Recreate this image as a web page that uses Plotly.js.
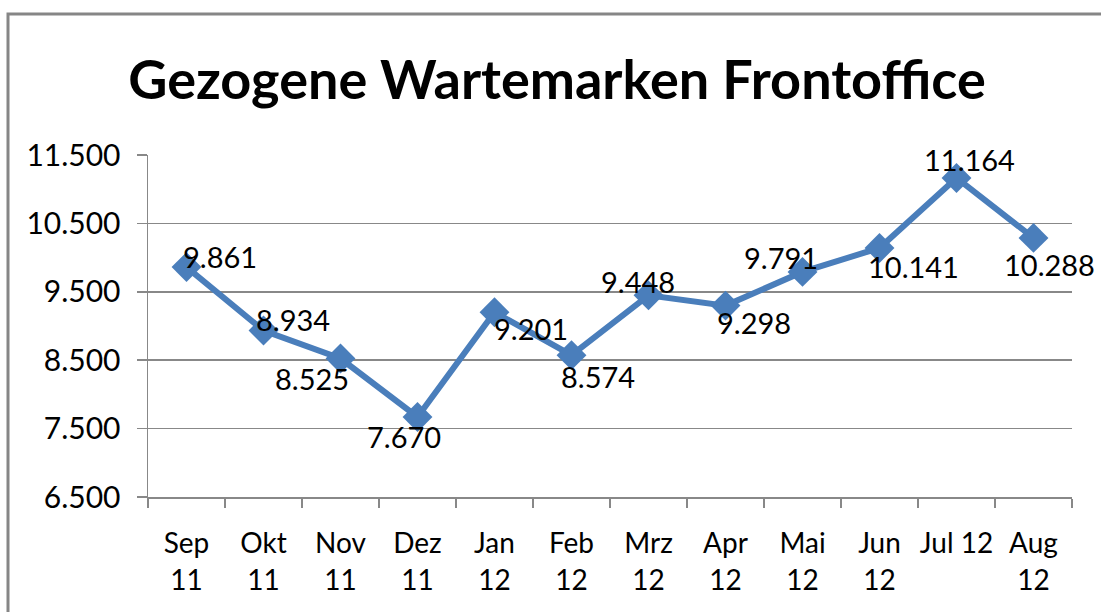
<!DOCTYPE html>
<html>
<head>
<meta charset="utf-8">
<script src="https://cdn.plot.ly/plotly-3.0.1.min.js"></script>
<style>html,body{margin:0;padding:0;background:#fff;}#chart{width:1101px;height:612px;}</style>
</head>
<body>
<div id="chart"></div>
<script>
const categories = ["Sep<br>11","Okt<br>11","Nov<br>11","Dez<br>11","Jan<br>12","Feb<br>12","Mrz<br>12","Apr<br>12","Mai<br>12","Jun<br>12","Jul 12","Aug<br>12"];
const values = [9861, 8934, 8525, 7670, 9201, 8574, 9448, 9298, 9791, 10141, 11164, 10288];
const yTicks = [6500, 7500, 8500, 9500, 10500, 11500];
const titleText = "Gezogene Wartemarken Frontoffice";

// label offsets (pixels) relative to each point: [xshift, yshift]
const labelOffsets = [[33,11],[29,11],[-29,-20],[-14,-20],[36,-16],[26,-21],[-11,14],[28,-17],[-22,14],[34,-19],[13,18],[16,-27]];

function fmt(v){ return String(v).replace(/\B(?=(\d{3})+(?!\d))/g, "."); }

const FONT = "Lato, 'Open Sans', sans-serif";

const trace = {
  type: "scatter", mode: "lines+markers",
  x: categories, y: values,
  line: {color: "#4a7ebb", width: 6},
  marker: {symbol: "diamond", size: 23, color: "#4a7ebb"},
  hoverinfo: "skip", cliponaxis: false
};

const annotations = values.map((v, i) => ({
  x: categories[i], y: v, xref: "x", yref: "y",
  text: fmt(v), showarrow: false,
  xshift: labelOffsets[i][0], yshift: labelOffsets[i][1],
  font: {family: FONT, size: 29, color: "#000"}
}));

const layout = {
  width: 1101, height: 612,
  margin: {l: 148, r: 29, t: 155, b: 115},
  paper_bgcolor: "#fff", plot_bgcolor: "#fff",
  showlegend: false,
  separators: ",.",
  title: {
    text: "<b>" + titleText + "</b>",
    x: 557/1101, xref: "container", xanchor: "center",
    y: 1 - 80/612, yref: "container", yanchor: "middle",
    font: {family: FONT, size: 54, color: "#000"}
  },
  xaxis: {
    type: "category", range: [-0.5, 11.5],
    tickson: "boundaries", ticks: "outside", ticklen: 9, tickwidth: 1.5, tickcolor: "#888",
    tickangle: 0, ticklabelstandoff: 21,
    showgrid: false, showline: true, linecolor: "#888", linewidth: 1.5,
    tickfont: {family: FONT, size: 28, color: "#000"},
    fixedrange: true
  },
  yaxis: {
    range: [6500, 11500], tickvals: yTicks, ticktext: yTicks.map(fmt),
    ticks: "outside", ticklen: 10, tickwidth: 1.5, tickcolor: "#888",
    ticklabelstandoff: 10,
    showgrid: true, gridcolor: "#888", gridwidth: 1.5,
    showline: true, linecolor: "#888", linewidth: 1.5,
    zeroline: false,
    tickfont: {family: FONT, size: 30, color: "#000"},
    fixedrange: true
  },
  shapes: [{
    type: "rect", xref: "paper", yref: "paper",
    x0: (8-148)/924, x1: (1120-148)/924,
    y0: (497-640)/342, y1: (497-14)/342,
    line: {color: "#868686", width: 3}, fillcolor: "rgba(0,0,0,0)", layer: "below"
  }],
  annotations: annotations
};

Plotly.newPlot("chart", [trace], layout, {displayModeBar: false, staticPlot: true});
</script>
</body>
</html>
